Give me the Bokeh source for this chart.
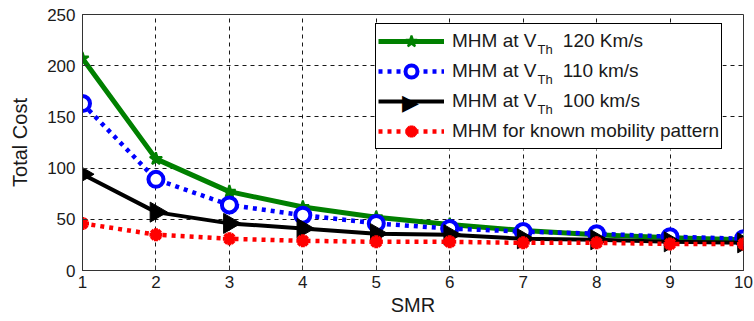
import math
from bokeh.plotting import figure
from bokeh.models import Range1d, Legend, LegendItem, Label, FixedTicker, BoxAnnotation
from bokeh.embed import file_html
from bokeh.resources import INLINE

# ---- data ----
smr = [1, 2, 3, 4, 5, 6, 7, 8, 9, 10]
cost_v120 = [207, 109, 77, 62, 52, 45, 39, 35, 32, 30]
cost_v110 = [163, 89, 64, 54, 46, 41, 38, 36, 33, 31]
cost_v100 = [94, 57, 46, 41, 36, 35, 31, 30, 28, 27]
cost_known = [46, 35, 31, 29, 28, 28, 27, 27, 26, 26]

x_ticks = [1, 2, 3, 4, 5, 6, 7, 8, 9, 10]
y_ticks = [0, 50, 100, 150, 200, 250]

labels_main = ["MHM at V", "MHM at V", "MHM at V", "MHM for known mobility pattern"]
labels_rest = ["120 Km/s", "110 km/s", "100 km/s", ""]
sub_text = "Th"

FONT = "Liberation Sans"

p = figure(width=754, height=321, output_backend="svg", toolbar_location=None,
           x_range=Range1d(1, 10), y_range=Range1d(0, 250),
           min_border_left=82, min_border_right=11, min_border_top=14,
           min_border_bottom=51, background_fill_color="white",
           border_fill_color="white")

# axes
for ax in (p.xaxis[0], p.yaxis[0]):
    ax.axis_line_color = "#333333"
    ax.major_tick_line_color = "#333333"
    ax.major_tick_in = 5
    ax.major_tick_out = 0
    ax.minor_tick_line_color = None
    ax.major_label_text_font = FONT
    ax.major_label_text_font_size = "17px"
    ax.major_label_text_color = "#1a1a1a"
    ax.axis_label_text_font = FONT
    ax.axis_label_text_font_size = "20px"
    ax.axis_label_text_font_style = "normal"
    ax.axis_label_text_color = "#1a1a1a"

p.xaxis.ticker = FixedTicker(ticks=x_ticks)
p.yaxis.ticker = FixedTicker(ticks=y_ticks)
p.xaxis.axis_label = "SMR"
p.yaxis.axis_label = "Total Cost"
p.xaxis.major_label_standoff = 5
p.xaxis.axis_label_standoff = 3
p.yaxis.major_label_standoff = 7
p.yaxis.axis_label_standoff = 13

for g in (p.xgrid[0], p.ygrid[0]):
    g.grid_line_color = "black"
    g.grid_line_dash = "4 4"
    g.grid_line_width = 1
    g.grid_line_alpha = 0.9
p.xgrid.ticker = FixedTicker(ticks=x_ticks)
p.ygrid.ticker = FixedTicker(ticks=y_ticks)

p.outline_line_color = "#333333"
p.outline_line_width = 1
p.outline_line_alpha = 1

# series
l1 = p.line(smr, cost_v120, line_color="#008000", line_width=5)
s1 = p.scatter(smr, cost_v120, marker="star", size=13, fill_color="#008000",
               line_color="#008000", line_width=2)

l2 = p.line(smr, cost_v110, line_color="#0000ff", line_width=4.5, line_dash="4 5")
s2 = p.scatter(smr, cost_v110, marker="circle", size=15, fill_color="white",
               line_color="#0000ff", line_width=4)

l3 = p.line(smr, cost_v100, line_color="black", line_width=4)
s3 = p.scatter(smr, cost_v100, marker="triangle", size=20, angle=-math.pi / 2,
               fill_color="black", line_color="black", line_width=1)

l4 = p.line(smr, cost_known, line_color="#ff0000", line_width=4.5, line_dash="4 5")
s4 = p.scatter(smr, cost_known, marker="asterisk", size=13, line_color="#ff0000",
               line_width=4)

# opaque white panel behind the (transparent) legend
p.add_layout(BoxAnnotation(left=293, right=640, bottom=121, top=245,
                           left_units="screen", right_units="screen",
                           bottom_units="screen", top_units="screen",
                           fill_color="white", fill_alpha=1, line_color=None,
                           level="annotation"))

gap = "\u00a0" * 5
full_labels = [m + (gap + r if r else "") for m, r in zip(labels_main, labels_rest)]

items = [
    LegendItem(label=full_labels[0], renderers=[l1, s1]),
    LegendItem(label=full_labels[1], renderers=[l2, s2]),
    LegendItem(label=full_labels[2], renderers=[l3]),
    LegendItem(label=full_labels[3], renderers=[l4, s4]),
]
legend = Legend(items=items, location=(293, 121), padding=2, spacing=0,
                glyph_width=66, glyph_height=30, label_standoff=8,
                margin=0,
                label_text_font=FONT, label_text_font_size="19px",
                label_text_color="#1a1a1a",
                border_line_color="black", border_line_width=1,
                border_line_alpha=1, background_fill_alpha=0)
p.add_layout(legend)

# subscripts "Th" in legend labels
for i in range(3):
    p.add_layout(Label(x=455, y=221 - 30 * i, x_units="screen", y_units="screen",
                       text=sub_text, text_font=FONT, text_font_size="13px",
                       text_baseline="middle", text_color="#1a1a1a",
                       level="overlay"))

# right-pointing triangle for the legend sample of the 100 km/s series
p.add_layout(Label(x=328, y=168.5, x_units="screen", y_units="screen",
                   text="\u25B6", text_font="DejaVu Sans", text_font_size="22px",
                   text_align="center", text_baseline="middle",
                   text_color="black", level="overlay"))

open("out.html", "w").write(file_html(p, INLINE))
